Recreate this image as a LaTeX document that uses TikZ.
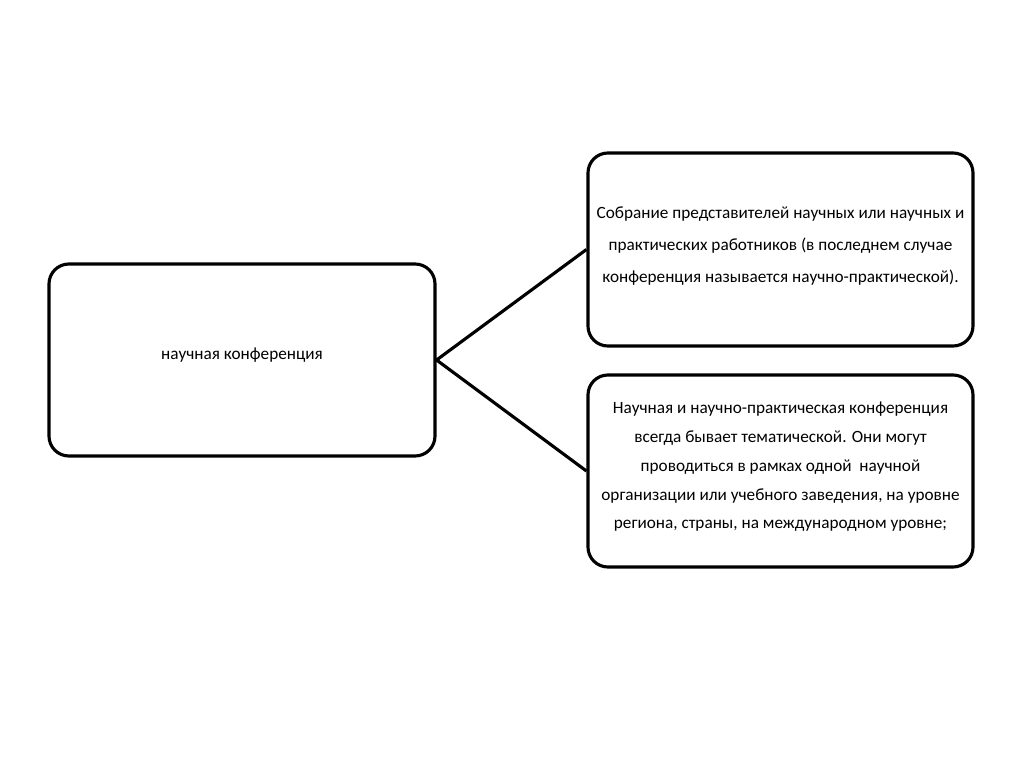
\documentclass[tikz,border=0pt]{standalone}
\usepackage{fontspec}
\setmainfont{Carlito}
\begin{document}
\begin{tikzpicture}[x=0.703pt,y=-0.703pt,
  box/.style={draw=black,line width=2.2pt,rounded corners=14pt,fill=white,inner sep=0pt},
  txt/.style={align=center,font=\fontsize{12.1pt}{22.5pt}\selectfont,text=black},
  txtb/.style={align=center,font=\fontsize{12.1pt}{20.2pt}\selectfont,text=black},
  link/.style={draw=black,line width=2.2pt}]
\useasboundingbox (0,0) rectangle (1024,767);
\node[box,minimum width=386*0.703pt,minimum height=192*0.703pt] (main) at (242,360) {};
\node[box,minimum width=385*0.703pt,minimum height=193*0.703pt] (top) at (780.5,249.5) {};
\node[box,minimum width=385*0.703pt,minimum height=192*0.703pt] (bot) at (780.5,471) {};
\node[txt] (mainT) at (242,355) {научная конференция};
\node[txt] (topT) at (780.5,246) {Собрание представителей научных или научных и\\практических работников (в последнем случае\\конференция называется научно-практической).};
\node[txtb] (botT) at (780.5,467) {Научная и научно-практическая конференция\\всегда бывает тематической. Они могут\\проводиться в рамках одной~ научной\\организации или учебного заведения, на уровне\\региона, страны, на международном уровне;};
\draw[link] (main.east) -- (top.west);
\draw[link] (main.east) -- (bot.west);
\end{tikzpicture}
\end{document}
